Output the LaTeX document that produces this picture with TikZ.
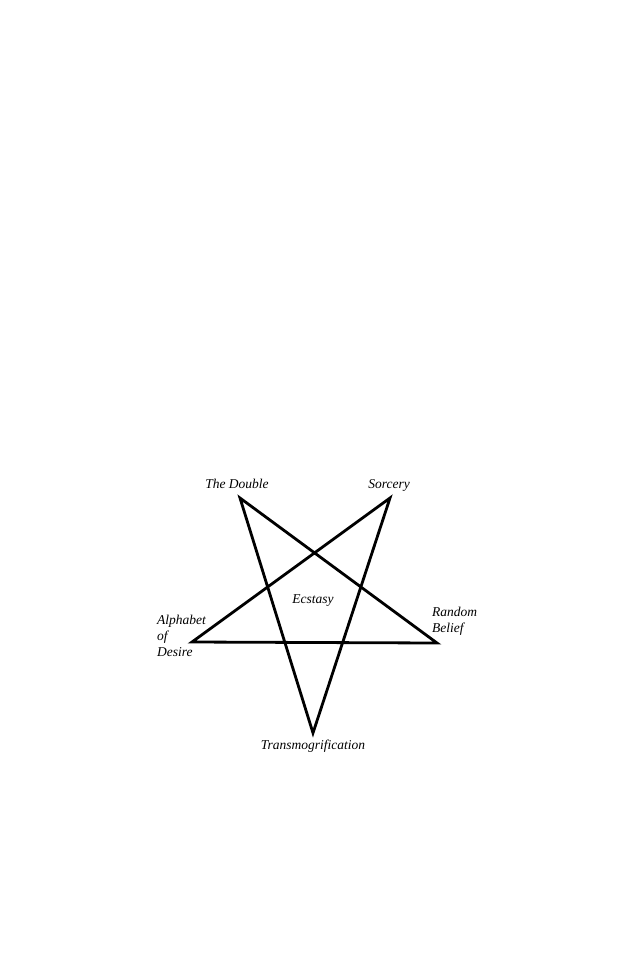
\documentclass[tikz,border=0pt]{standalone}
\usepackage{fontspec}
\setmainfont{Liberation Serif}
\begin{document}
\begin{tikzpicture}[x=1pt,y=-1pt,
  star/.style={line width=2.8pt,line join=miter},
  lbl/.style={font=\itshape\fontsize{13.5}{15.6}\selectfont,inner sep=0pt}]
\useasboundingbox (0,0) rectangle (638,978);
\coordinate (td) at (240,498);
\coordinate (so) at (390,498);
\coordinate (rb) at (437,643);
\coordinate (tr) at (313,733);
\coordinate (ad) at (192,642);
\draw[star] (td) -- (rb) -- (ad) -- (so) -- (tr) -- cycle;
\node[lbl] (ltd) at (237,484) {The Double};
\node[lbl] (lso) at (389,485) {Sorcery};
\node[lbl] (lec) at (313,601) {Ecstasy};
\node[lbl,anchor=base west,align=left] (lad) at (157,656) {Alphabet\\of\\Desire};
\node[lbl,anchor=base west,align=left] (lrb) at (432,632) {Random\\Belief};
\node[lbl] (ltr) at (313,746) {Transmogrification};
\end{tikzpicture}
\end{document}
